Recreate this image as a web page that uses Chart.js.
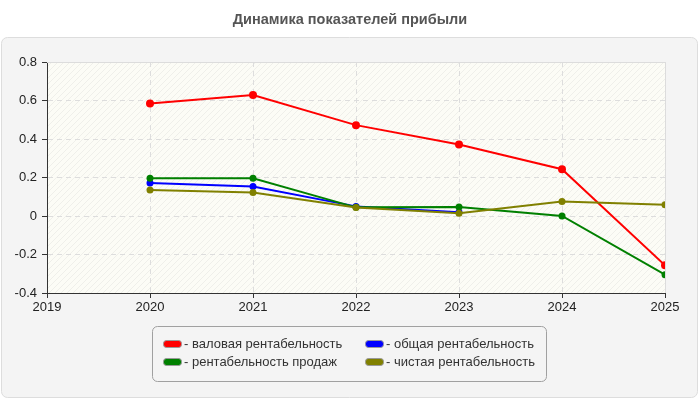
<!DOCTYPE html>
<html>
<head>
<meta charset="utf-8">
<script src="https://cdn.jsdelivr.net/npm/chart.js@4"></script>
<style>
  html, body { margin: 0; padding: 0; background: #fff; }
  #wrap { width: 700px; height: 400px; }
</style>
</head>
<body>
<div id="wrap"><canvas id="profitChart" width="700" height="400"></canvas></div>
<script>
const years = [2020, 2021, 2022, 2023, 2024, 2025];
const grossMargin = [0.585, 0.628, 0.472, 0.371, 0.243, -0.256];
const totalMargin = [0.172, 0.153, 0.05, 0.02, null, null];
const salesMargin = [0.196, 0.196, 0.045, 0.047, 0.0, -0.305];
const netMargin = [0.135, 0.122, 0.044, 0.014, 0.075, 0.059];
const seriesLabels = ['- валовая рентабельность', '- общая рентабельность', '- рентабельность продаж', '- чистая рентабельность'];
const seriesColors = ['#ff0000', '#0000ff', '#008000', '#808000'];

const fontFamily = '"Liberation Sans", Arial, sans-serif';

function toPoints(values) {
    return years.map((y, i) => ({ x: y, y: values[i] }));
}

// diagonal hatch for the plot background
function makeHatch(ctx) {
    const p = document.createElement('canvas');
    p.width = 6; p.height = 6;
    const pc = p.getContext('2d');
    pc.fillStyle = '#fcfcf6';
    pc.fillRect(0, 0, 6, 6);
    pc.strokeStyle = '#efefea';
    pc.lineWidth = 1;
    pc.beginPath();
    pc.moveTo(0, 6); pc.lineTo(6, 0);
    pc.moveTo(-3, 3); pc.lineTo(3, -3);
    pc.moveTo(3, 9); pc.lineTo(9, 3);
    pc.stroke();
    return ctx.createPattern(p, 'repeat');
}

function roundRect(c, x, y, w, h, r) {
    c.beginPath();
    c.moveTo(x + r, y);
    c.lineTo(x + w - r, y);
    c.arcTo(x + w, y, x + w, y + r, r);
    c.lineTo(x + w, y + h - r);
    c.arcTo(x + w, y + h, x + w - r, y + h, r);
    c.lineTo(x + r, y + h);
    c.arcTo(x, y + h, x, y + h - r, r);
    c.lineTo(x, y + r);
    c.arcTo(x, y, x + r, y, r);
    c.closePath();
}

const panelPlugin = {
    id: 'panel',
    beforeDraw(chart) {
        const c = chart.ctx;
        const a = chart.chartArea;
        c.save();
        c.fillStyle = '#ffffff';
        c.fillRect(0, 0, chart.width, chart.height);
        roundRect(c, 1.5, 37.5, 696, 360, 6);
        c.fillStyle = '#f4f4f4';
        c.fill();
        c.strokeStyle = '#dddddd';
        c.lineWidth = 1;
        c.stroke();

        c.fillStyle = '#555555';
        c.font = 'bold 14.5px ' + fontFamily;
        c.textAlign = 'center';
        c.textBaseline = 'middle';
        c.fillText('Динамика показателей прибыли', 350, 20);

        c.fillStyle = makeHatch(c);
        c.fillRect(a.left, a.top, a.right - a.left, a.bottom - a.top);
        c.restore();
    },
    afterDraw(chart) {
        const c = chart.ctx;
        const a = chart.chartArea;
        c.save();
        // light frame on top and right of the plot
        c.strokeStyle = '#dcdcdc';
        c.lineWidth = 1;
        c.beginPath();
        c.moveTo(a.left, a.top + 0.5);
        c.lineTo(a.right + 0.5, a.top + 0.5);
        c.lineTo(a.right + 0.5, a.bottom);
        c.stroke();

        // legend box
        roundRect(c, 152.5, 326.5, 394, 55, 5);
        c.strokeStyle = '#a0a0a0';
        c.stroke();

        c.font = '13px ' + fontFamily;
        c.textAlign = 'left';
        c.textBaseline = 'middle';
        chart.data.datasets.forEach((ds, i) => {
            const col = i % 2;
            const row = Math.floor(i / 2);
            const sx = col === 0 ? 163 : 365;
            const sy = row === 0 ? 344 : 362;
            roundRect(c, sx + 0.5, sy - 3.5, 18, 7, 3);
            c.fillStyle = ds.borderColor;
            c.fill();
            c.strokeStyle = '#999999';
            c.stroke();
            c.fillStyle = '#333333';
            c.fillText(ds.label, sx + 21, sy + 0.5);
        });
        c.restore();
    }
};

const datasets = [grossMargin, totalMargin, salesMargin, netMargin].map((vals, i) => ({
    label: seriesLabels[i],
    data: toPoints(vals),
    borderColor: seriesColors[i],
    backgroundColor: seriesColors[i],
    borderWidth: 2,
    pointRadius: i === 0 ? 4 : 3.5,
    pointBorderWidth: 0,
    pointHoverRadius: 4,
    spanGaps: false,
    fill: false,
    tension: 0,
    order: 3 - i
}));

const ctx = document.getElementById('profitChart');

new Chart(ctx, {
    type: 'line',
    data: { datasets: datasets },
    options: {
        responsive: false,
        animation: false,
        layout: {
            padding: { top: 62, left: 0, right: 35, bottom: 87 }
        },
        plugins: {
            legend: { display: false },
            title: { display: false },
            tooltip: { enabled: false }
        },
        scales: {
            x: {
                type: 'linear',
                min: 2019,
                max: 2025,
                afterFit: s => { s.height = 20; },
                ticks: {
                    stepSize: 1,
                    padding: 2,
                    color: '#222222',
                    font: { family: fontFamily, size: 13 },
                    callback: v => String(v)
                },
                grid: {
                    color: '#dddddd',
                    tickColor: '#333333',
                    tickLength: 5
                },
                border: { color: '#333333', width: 1, dash: [5, 4] }
            },
            y: {
                min: -0.4,
                max: 0.8,
                afterFit: s => { s.width = 47; },
                ticks: {
                    stepSize: 0.2,
                    padding: 5,
                    color: '#222222',
                    font: { family: fontFamily, size: 13 },
                    callback: v => String(Math.round(v * 10) / 10)
                },
                grid: {
                    color: '#dddddd',
                    tickColor: '#333333',
                    tickLength: 5
                },
                border: { color: '#333333', width: 1, dash: [5, 4] }
            }
        }
    },
    plugins: [panelPlugin]
});
</script>
</body>
</html>
